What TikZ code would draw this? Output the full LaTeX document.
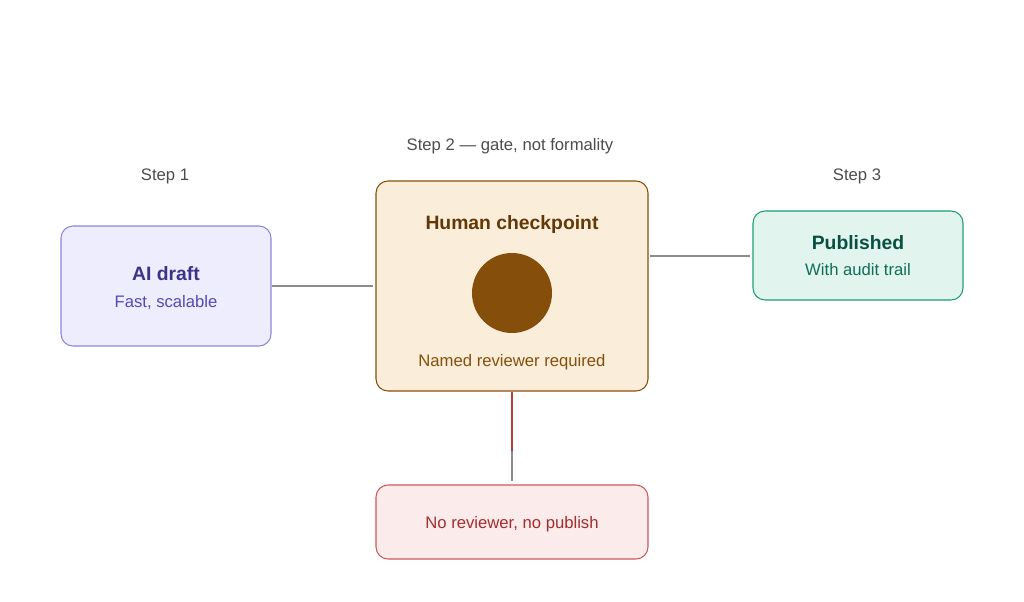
\documentclass[tikz,border=0pt]{standalone}
\usepackage{fontspec}
\setmainfont{Liberation Sans}
\begin{document}
\begin{tikzpicture}[x=0.75pt,y=-0.75pt,
 box/.style={draw,rounded corners=9pt,line width=0.8pt},
 ttl/.style={font=\fontsize{14.5}{16}\selectfont\bfseries},
 sub/.style={font=\fontsize{12.5}{14}\selectfont},
 lbl/.style={font=\fontsize{12.5}{14}\selectfont,text=black!70},
 conn/.style={draw=black!45,line width=1.5pt}]
\definecolor{pbA}{HTML}{EEEDFD}\definecolor{pbB}{HTML}{8E84E0}
\definecolor{pbT}{HTML}{3C3489}\definecolor{pbS}{HTML}{534AB7}
\definecolor{amA}{HTML}{FAEEDA}\definecolor{amB}{HTML}{854F0B}
\definecolor{amT}{HTML}{633806}
\definecolor{gnA}{HTML}{E1F5EE}\definecolor{gnB}{HTML}{1D9E75}
\definecolor{gnT}{HTML}{085041}\definecolor{gnS}{HTML}{0F6E56}
\definecolor{rdA}{HTML}{FCEBEB}\definecolor{rdB}{HTML}{D0585A}
\definecolor{rdT}{HTML}{A32D2D}
\useasboundingbox (0,0) rectangle (1024,602);
\draw[box,fill=pbA,draw=pbB] (61,226) rectangle (271,346);
\node[ttl,text=pbT] (a1) at (166,274) {AI draft};
\node[sub,text=pbS] (a2) at (166,303) {Fast, scalable};
\draw[box,fill=amA,draw=amB] (376,181) rectangle (648,391);
\node[ttl,text=amT] (h1) at (512,225) {Human checkpoint};
\node[circle,fill=amB,minimum size=60pt,inner sep=0] (hc) at (512,293) {};
\node[sub,text=amB] (h2) at (512,362) {Named reviewer required};
\draw[box,fill=gnA,draw=gnB] (753,211) rectangle (963,300);
\node[ttl,text=gnT] (p1) at (858,243) {Published};
\node[sub,text=gnS] (p2) at (858,270) {With audit trail};
\draw[box,fill=rdA,draw=rdB] (376,485) rectangle (648,559);
\node[sub,text=rdT] (r1) at (512,524) {No reviewer, no publish};
\node[lbl] (s1) at (165,176) {Step 1};
\node[lbl] (s2) at (510,146) {Step 2 — gate, not formality};
\node[lbl] (s3) at (857,176) {Step 3};
\coordinate (c1) at (272,286); \coordinate (c2) at (373,286);
\coordinate (c3) at (650,256); \coordinate (c4) at (750,256);
\coordinate (c5) at (512,392); \coordinate (c6) at (512,451); \coordinate (c7) at (512,481);
\draw[conn] (c1) -- (c2);
\draw[conn] (c3) -- (c4);
\draw[conn] (c6) -- (c7);
\draw[conn,draw=rdT!90] (c5) -- (c6);
\end{tikzpicture}
\end{document}
